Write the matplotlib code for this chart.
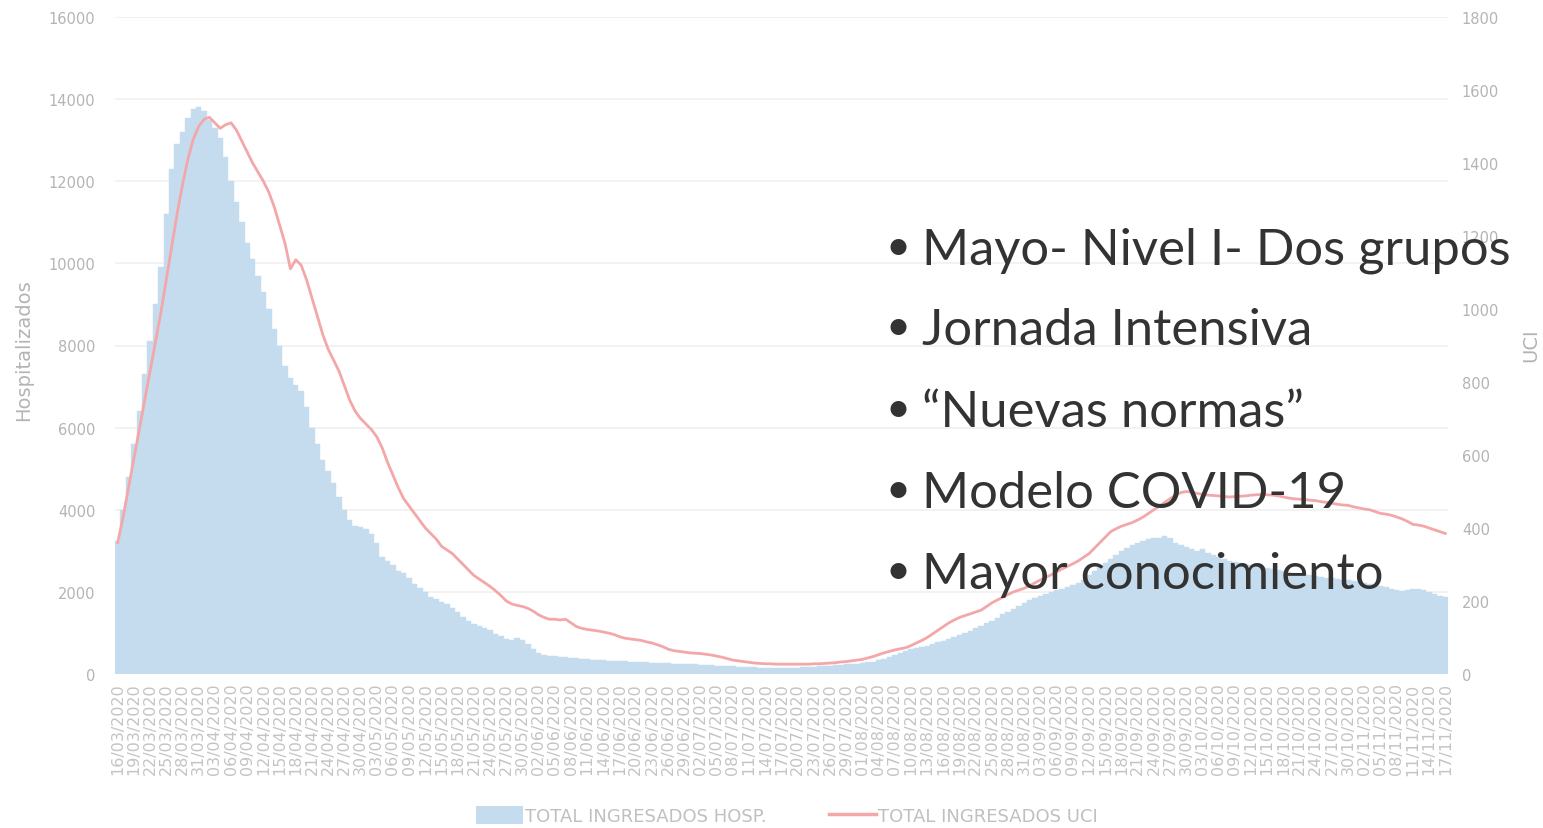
import matplotlib
matplotlib.use('Agg')
import matplotlib.pyplot as plt
from matplotlib.patches import Patch
from matplotlib.lines import Line2D
import datetime as dt

# ---------------- data ----------------
start_date = dt.date(2020, 3, 16)
n_days = 247
dates = [start_date + dt.timedelta(days=i) for i in range(n_days)]
date_labels = [d.strftime('%d/%m/%Y') for d in dates]

hosp = [
    3250, 4000, 4800, 5600, 6400, 7300, 8100, 9000, 9900, 11200,
    12300, 12900, 13200, 13550, 13750, 13800, 13700, 13500, 13300, 13050,
    12600, 12000, 11500, 11000, 10500, 10100, 9700, 9300, 8900, 8400,
    8000, 7500, 7200, 7050, 6900, 6500, 6000, 5600, 5200, 4950,
    4650, 4300, 4000, 3750, 3600, 3580, 3520, 3400, 3200, 2850,
    2750, 2650, 2520, 2450, 2350, 2200, 2100, 2000, 1880, 1820,
    1760, 1700, 1600, 1500, 1400, 1300, 1220, 1160, 1110, 1060,
    980, 920, 860, 820, 880, 840, 720, 600, 520, 460,
    440, 430, 420, 410, 400, 390, 375, 360, 350, 345,
    335, 325, 318, 310, 305, 300, 295, 290, 285, 280,
    272, 265, 260, 255, 250, 245, 240, 235, 228, 220,
    212, 205, 198, 190, 183, 176, 170, 165, 160, 155,
    150, 148, 145, 145, 147, 150, 155, 160, 168, 175,
    185, 195, 205, 215, 225, 235, 245, 255, 270, 285,
    300, 330, 370, 420, 470, 520, 560, 600, 630, 660,
    690, 730, 770, 810, 850, 900, 950, 1000, 1050, 1110,
    1170, 1230, 1300, 1370, 1450, 1510, 1580, 1650, 1720, 1790,
    1850, 1900, 1950, 2000, 2050, 2080, 2120, 2170, 2220, 2300,
    2400, 2500, 2600, 2700, 2800, 2900, 3000, 3080, 3150, 3200,
    3250, 3280, 3300, 3320, 3350, 3300, 3200, 3150, 3100, 3050,
    3000, 3050, 2950, 2900, 2850, 2800, 2750, 2720, 2700, 2680,
    2650, 2630, 2600, 2580, 2550, 2530, 2500, 2480, 2450, 2430,
    2420, 2400, 2380, 2370, 2350, 2330, 2320, 2300, 2280, 2270,
    2250, 2220, 2200, 2180, 2150, 2120, 2080, 2050, 2020, 2050,
    2070, 2060, 2050, 2000, 1950, 1900, 1870,
]

uci = [
    360, 430, 510, 590, 670, 750, 830, 910, 990, 1080,
    1170, 1260, 1340, 1410, 1465, 1500, 1520, 1525, 1510, 1495,
    1505, 1510, 1490, 1460, 1430, 1400, 1375, 1350, 1320, 1280,
    1230, 1180, 1110, 1135, 1120, 1080, 1030, 980, 930, 890,
    860, 830, 790, 750, 720, 700, 685, 670, 650, 620,
    580, 545, 510, 480, 460, 440, 420, 400, 385, 370,
    350, 340, 330, 315, 300, 285, 270, 260, 250, 240,
    228, 215, 200, 192, 188, 185, 180, 172, 162, 155,
    150, 150, 148, 150, 140, 130, 125, 122, 120, 118,
    115, 112, 108, 102, 98, 96, 94, 92, 88, 85,
    80, 75, 68, 64, 62, 60, 58, 57, 56, 54,
    52, 49, 46, 42, 38, 36, 34, 32, 30, 29,
    28, 28, 27, 27, 27, 27, 27, 27, 27, 28,
    28, 29, 30, 31, 33, 34, 36, 38, 40, 44,
    48, 53, 58, 62, 66, 69, 72, 78, 85, 92,
    100, 110, 120, 130, 140, 148, 155, 160, 165, 170,
    175, 185, 195, 203, 210, 218, 225, 230, 235, 242,
    250, 258, 265, 272, 280, 288, 295, 302, 310, 320,
    330, 345, 360, 375, 390, 398, 405, 410, 415, 422,
    430, 440, 450, 460, 470, 480, 490, 497, 500, 498,
    495, 492, 490, 489, 488, 486, 485, 486, 487, 488,
    490, 491, 492, 491, 490, 488, 485, 482, 480, 479,
    478, 476, 475, 472, 470, 468, 465, 463, 462, 458,
    455, 452, 450, 445, 440, 438, 435, 430, 425, 418,
    410, 408, 405, 400, 395, 390, 385,
]

left_ticks = [0, 2000, 4000, 6000, 8000, 10000, 12000, 14000, 16000]
right_ticks = [0, 200, 400, 600, 800, 1000, 1200, 1400, 1600, 1800]
label_step = 3

bullets = [
    'Mayo- Nivel I- Dos grupos',
    'Jornada Intensiva',
    '\u201cNuevas normas\u201d',
    'Modelo COVID-19',
    'Mayor conocimiento',
]

legend_labels = ['TOTAL INGRESADOS HOSP.', 'TOTAL INGRESADOS UCI']

# ---------------- style ----------------
BLUE = '#c5dcef'
RED = '#f4a7a8'
TICK = '#b4b4b4'
GRID = '#f0f0f0'
TEXT = '#333333'

W, H = 1543, 829
fig = plt.figure(figsize=(W / 100, H / 100), dpi=100)
ax = fig.add_axes([115 / W, 1 - 675 / H, (1448 - 115) / W, (675 - 18) / H])
ax2 = ax.twinx()

x = list(range(len(hosp)))
ax.bar(x, hosp, width=1.0, color=BLUE, edgecolor=BLUE, linewidth=0.3, zorder=2)
ax2.plot(x, uci, color=RED, lw=2.0, zorder=3, solid_joinstyle='round')

ax.set_xlim(-0.5, len(hosp) - 0.5)
ax.set_ylim(0, 16000)
ax2.set_ylim(0, 1800)
ax.set_yticks(left_ticks)
ax2.set_yticks(right_ticks)
ax.set_yticklabels([str(t) for t in left_ticks])
ax2.set_yticklabels([str(t) for t in right_ticks])

ax.grid(axis='y', color=GRID, lw=1.2, zorder=0)
ax.set_axisbelow(True)

tick_pos = x[::label_step]
ax.set_xticks(tick_pos)
ax.set_xticklabels(date_labels[::label_step], rotation=90, fontsize=11.5,
                   color='#c4c4c4')

for a in (ax, ax2):
    for s in a.spines.values():
        s.set_visible(False)
    a.tick_params(length=0)
ax.tick_params(axis='y', labelsize=10.5, labelcolor=TICK, pad=14)
ax2.tick_params(axis='y', labelsize=10.5, labelcolor=TICK, pad=10)
ax.tick_params(axis='x', pad=6)

ax.set_ylabel('Hospitalizados', fontsize=14, color=TICK)
ax.yaxis.set_label_coords((33 - 115) / 1333, (675 - 350) / 657)
ax2.set_ylabel('UCI', fontsize=14, color=TICK, rotation=90)
ax2.yaxis.set_label_coords((1521 - 115) / 1333, (675 - 345) / 657)

handles = [Patch(facecolor=BLUE, edgecolor='none'),
           Line2D([0], [0], color=RED, lw=2.5)]
fig.legend(handles, legend_labels, loc='lower center', ncol=2,
           bbox_to_anchor=(0.51, -0.016), frameon=False,
           handlelength=2.6, handleheight=1.1, columnspacing=3.5,
           handletextpad=0.1, prop={'size': 13},
           labelcolor='#c0c0c0')

# bullets overlay
baselines = [265, 345, 427, 508, 589]
for txt, yb in zip(bullets, baselines):
    fig.text(886 / W, 1 - (yb - 5) / H, '\u2022', fontsize=31, color=TEXT,
             family='Lato', va='baseline', ha='left')
    fig.text(922 / W, 1 - yb / H, txt, fontsize=36.5, color=TEXT,
             family='Lato', va='baseline', ha='left')

fig.savefig('out.png', dpi=100)
